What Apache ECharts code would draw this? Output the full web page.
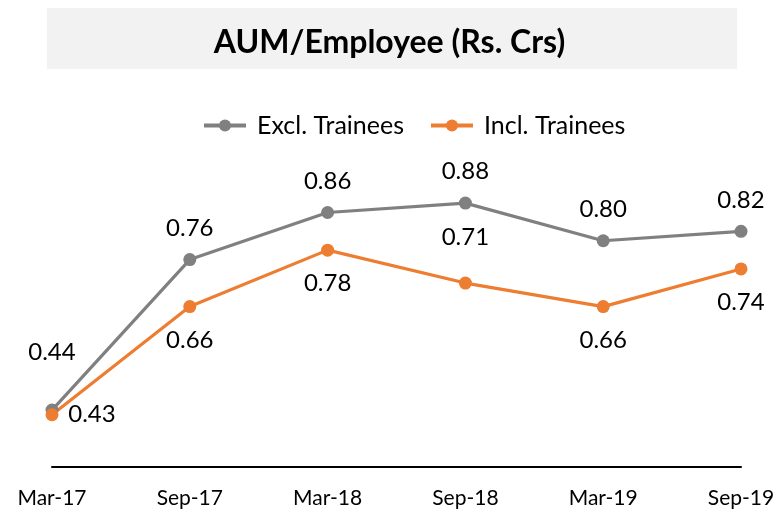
<!DOCTYPE html>
<html><head><meta charset="utf-8">
<script src="https://cdn.jsdelivr.net/npm/echarts@6/dist/echarts.min.js"></script>
<style>html,body{margin:0;padding:0;background:#fff}#c{width:779px;height:512px}</style>
</head><body><div id="c"></div>
<script>
const categories = ['Mar-17','Sep-17','Mar-18','Sep-18','Mar-19','Sep-19'];
const excl = [0.44, 0.76, 0.86, 0.88, 0.80, 0.82];
const incl = [0.43, 0.66, 0.78, 0.71, 0.66, 0.74];
const seriesNames = ['Excl. Trainees','Incl. Trainees'];
const titleText = 'AUM/Employee (Rs. Crs)';

const FONT = 'Lato';
const exclPos = [[6.5,-51],'top','top','top','top','top'];
const inclPos = [[46.5,6.5],'bottom','bottom','top','bottom','bottom'];

function mk(vals, pos, isExcl){
  return vals.map((v,i)=>{
    const p = pos[i];
    const lab = Array.isArray(p) ? {position: p, align:'center', verticalAlign:'middle'} : {position: p, distance: p==='top' ? (isExcl?13:27) : 15};
    return {value: v, label: lab};
  });
}

const chart = echarts.init(document.getElementById('c'));
chart.setOption({
  animation:false,
  graphic:[{type:'rect', shape:{x:47,y:8,width:690,height:61}, style:{fill:'#f2f2f2'}, z:-1}],
  title:{text:titleText, left:'center', top:22, textStyle:{fontFamily:FONT, fontWeight:'bold', fontSize:32, color:'#000'}},
  legend:{top:108, left:197, itemGap:25, itemWidth:42, itemHeight:15,
    lineStyle:{width:4},
    textStyle:{fontFamily:FONT, fontSize:25, color:'#000', padding:[0,0,0,6]}, data:seriesNames},
  grid:{left:52, right:38, top:193.7, bottom:512-466.5, containLabel:false},
  xAxis:{type:'category', data:categories, boundaryGap:false,
    axisLine:{lineStyle:{color:'#000', width:2}}, axisTick:{show:false},
    axisLabel:{fontFamily:FONT, fontSize:21, color:'#000', margin:21}},
  yAxis:{type:'value', min:0.32, max:0.9, show:false, splitLine:{show:false}},
  series:[
    {name:seriesNames[0], type:'line', data:mk(excl, exclPos, true), symbol:'circle', symbolSize:13,
      lineStyle:{color:'#808080', width:3.2}, itemStyle:{color:'#808080'},
      label:{show:true, fontFamily:FONT, fontSize:24, color:'#000', formatter:p=>p.value.toFixed(2)}},
    {name:seriesNames[1], type:'line', data:mk(incl, inclPos, false), symbol:'circle', symbolSize:13,
      lineStyle:{color:'#ED7D31', width:3.2}, itemStyle:{color:'#ED7D31'},
      label:{show:true, fontFamily:FONT, fontSize:24, color:'#000', formatter:p=>p.value.toFixed(2)}}
  ]
});
</script></body></html>
